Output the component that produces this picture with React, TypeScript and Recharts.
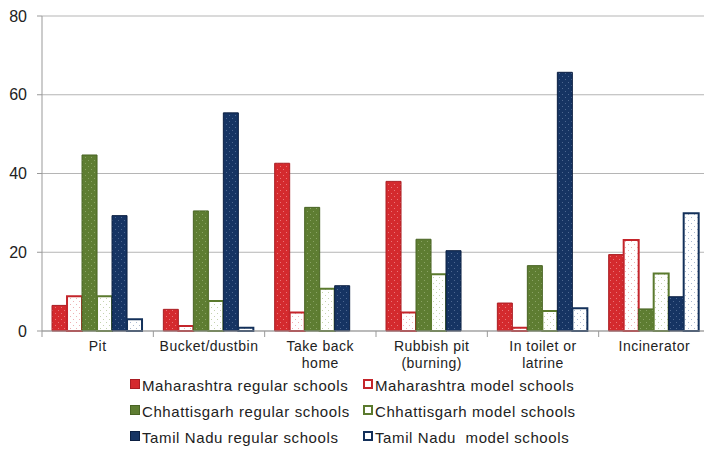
import React from 'react';
import { BarChart, Bar, XAxis, YAxis, CartesianGrid, Legend } from 'recharts';

const categories = ['Pit', 'Bucket/dustbin', 'Take back home', 'Rubbish pit (burning)', 'In toilet or latrine', 'Incinerator'];
const categoryLines = [['Pit'], ['Bucket/dustbin'], ['Take back', 'home'], ['Rubbish pit', '(burning)'], ['In toilet or', 'latrine'], ['Incinerator']];

const mhRegular = [6.5, 5.5, 42.6, 38.0, 7.1, 19.4];
const mhModel = [8.8, 1.3, 4.7, 4.7, 0.8, 23.1];
const cgRegular = [44.7, 30.5, 31.4, 23.3, 16.6, 5.6];
const cgModel = [8.8, 7.6, 10.7, 14.4, 5.1, 14.6];
const tnRegular = [29.3, 55.4, 11.5, 20.4, 65.7, 8.7];
const tnModel = [3.0, 0.8, 0, 0, 5.8, 29.9];

const yTicks = [0, 20, 40, 60, 80];

const seriesNames = [
  'Maharashtra regular schools',
  'Maharashtra model schools',
  'Chhattisgarh regular schools',
  'Chhattisgarh model schools',
  'Tamil Nadu regular schools',
  'Tamil Nadu  model schools',
];

const data = categories.map((c, i) => ({
  category: c,
  mhRegular: mhRegular[i],
  mhModel: mhModel[i],
  cgRegular: cgRegular[i],
  cgModel: cgModel[i],
  tnRegular: tnRegular[i],
  tnModel: tnModel[i],
}));

const CHART_W = 712;
const CHART_H = 450;
const MARGIN = { top: 16, right: 2, left: 0, bottom: 2 };
const Y_W = 42;
const BAND = (CHART_W - MARGIN.left - MARGIN.right - Y_W) / categories.length;

const series = [
  { key: 'mhRegular', fill: 'url(#patRed)', stroke: '#a91d23', sw: 1, sw2: '#d42a2e', model: false },
  { key: 'mhModel', fill: 'url(#patRedM)', stroke: '#c4252b', sw: 2, sw2: '#c4252b', model: true },
  { key: 'cgRegular', fill: 'url(#patGreen)', stroke: '#496424', sw: 1, sw2: '#5e7d32', model: false },
  { key: 'cgModel', fill: 'url(#patGreenM)', stroke: '#5b7a2e', sw: 2, sw2: '#5b7a2e', model: true },
  { key: 'tnRegular', fill: 'url(#patNavy)', stroke: '#0b1f42', sw: 1, sw2: '#163463', model: false },
  { key: 'tnModel', fill: 'url(#patNavyM)', stroke: '#13305a', sw: 2, sw2: '#13305a', model: true },
];

const font = '"Liberation Sans", Arial, sans-serif';

const XTick = (props: any) => {
  const { x, y, payload, index } = props;
  const lines = categoryLines[index] || [payload.value];
  const left = x - BAND / 2;
  return (
    <g>
      <line x1={left} y1={y} x2={left} y2={y + 6} stroke="#999" strokeWidth={1} />
      {index === categories.length - 1 && (
        <line x1={x + BAND / 2} y1={y} x2={x + BAND / 2} y2={y + 6} stroke="#999" strokeWidth={1} />
      )}
      <text x={x} y={y + 20} textAnchor="middle" fontSize={14} letterSpacing={0.5} fill="#222" fontFamily={font}>
        {lines.map((l: string, i: number) => (
          <tspan key={i} x={x} dy={i === 0 ? 0 : 17}>{l}</tspan>
        ))}
      </text>
    </g>
  );
};

const Marker = ({ s }: { s: any }) => (
  <span
    style={{
      display: 'inline-block',
      width: s.model ? 6 : 8,
      height: s.model ? 6 : 8,
      background: s.model ? '#fff' : s.sw2,
      border: s.model ? `2px solid ${s.stroke}` : `1px solid ${s.stroke}`,
      boxSizing: 'content-box',
      marginRight: 2,
      verticalAlign: 'middle',
      position: 'relative',
      top: -1,
    }}
  />
);

const LegendContent = () => {
  const rows = [0, 1, 2];
  return (
    <div style={{ height: 76, fontFamily: font, fontSize: 15, letterSpacing: 0.6, color: '#222' }}>
      {rows.map((r) => (
        <div key={r} style={{ display: 'flex', height: 26, alignItems: 'center', paddingLeft: 130 }}>
          {[0, 1].map((c) => {
            const idx = r * 2 + c;
            const s = series[idx];
            return (
              <div key={c} style={{ width: c === 0 ? 233 : 300, whiteSpace: 'pre', display: 'flex', alignItems: 'center' }}>
                <Marker s={s} />
                <span>{seriesNames[idx]}</span>
              </div>
            );
          })}
        </div>
      ))}
    </div>
  );
};

const Dots = ({ id, bg, dot }: { id: string; bg: string; dot: string }) => (
  <pattern id={id} width={6} height={6} patternUnits="userSpaceOnUse">
    <rect x={0} y={0} width={6} height={6} fill={bg} />
    <rect x={1} y={1} width={1} height={1} fill={dot} />
    <rect x={4} y={4} width={1} height={1} fill={dot} />
  </pattern>
);

export default function App() {
  return (
    <div style={{ position: 'absolute', left: 0, top: 0, width: 704, height: 450, overflow: 'hidden', background: '#fff' }}>
      <BarChart width={CHART_W} height={CHART_H} data={data} margin={MARGIN} barCategoryGap="9%" barGap={0}>
        <defs>
          <Dots id="patRed" bg="#d42a2e" dot="#e97578" />
          <Dots id="patRedM" bg="#ffffff" dot="#eeb0b2" />
          <Dots id="patGreen" bg="#5e7d32" dot="#8aa365" />
          <Dots id="patGreenM" bg="#ffffff" dot="#c4d2ae" />
          <Dots id="patNavy" bg="#163463" dot="#4d6790" />
          <Dots id="patNavyM" bg="#ffffff" dot="#aab8cf" />
        </defs>
        <CartesianGrid vertical={false} stroke="#b5b5b5" strokeWidth={1} />
        <XAxis
          dataKey="category"
          height={41}
          interval={0}
          tickLine={false}
          tickSize={0}
          tickMargin={0}
          axisLine={{ stroke: '#999' }}
          tick={<XTick />}
        />
        <YAxis
          domain={[0, 80]}
          ticks={yTicks}
          width={Y_W}
          tickSize={5}
          tickMargin={10}
          axisLine={{ stroke: '#999' }}
          tickLine={{ stroke: '#999' }}
          tick={{ fontSize: 16, fill: '#222', fontFamily: font }}
        />
        <Legend verticalAlign="bottom" height={76} content={<LegendContent />} wrapperStyle={{ left: 0, width: CHART_W }} />
        {series.map((s, i) => (
          <Bar
            key={s.key}
            dataKey={s.key}
            name={seriesNames[i]}
            fill={s.fill}
            stroke={s.stroke}
            strokeWidth={s.sw}
            isAnimationActive={false}
          />
        ))}
      </BarChart>
    </div>
  );
}
